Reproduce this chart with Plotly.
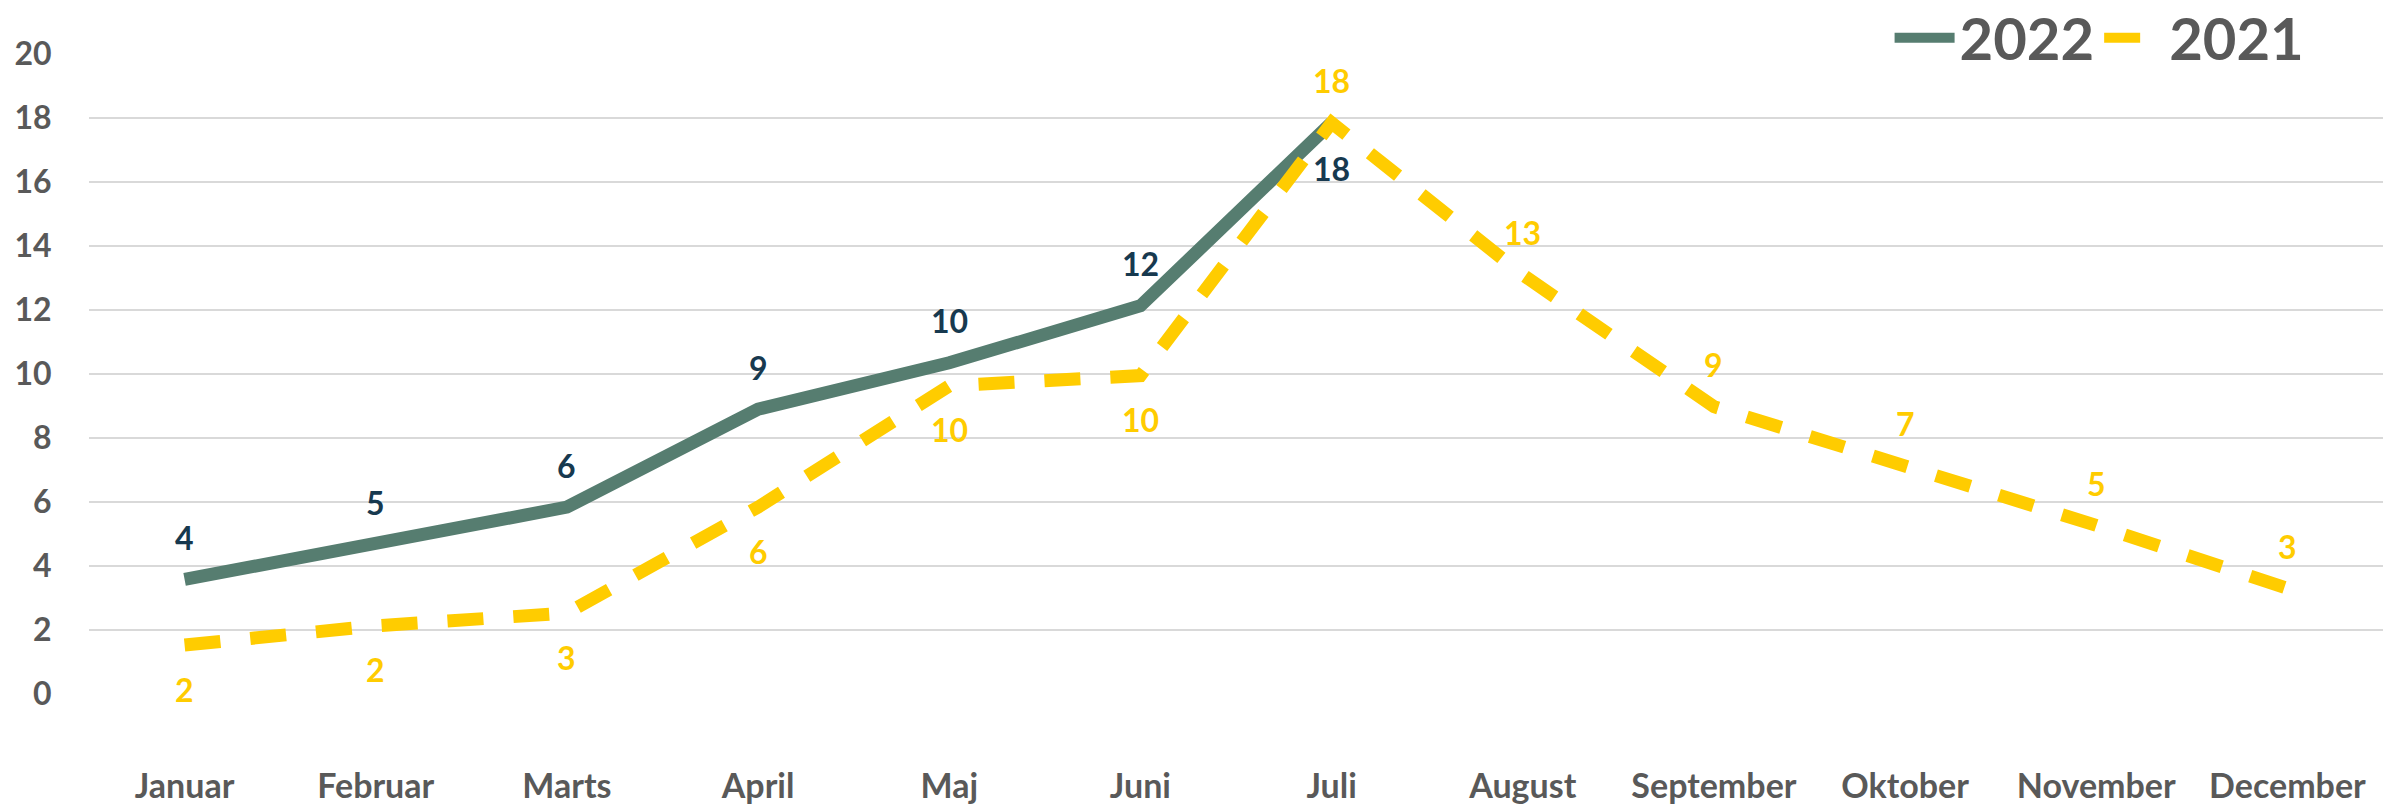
import plotly.graph_objects as go

months = ["Januar", "Februar", "Marts", "April", "Maj", "Juni", "Juli",
          "August", "September", "Oktober", "November", "December"]
values_2022 = [3.58, 4.66, 5.84, 8.9, 10.35, 12.13, 17.85, None, None, None, None, None]
values_2021 = [1.53, 2.13, 2.53, 5.84, 9.63, 9.95, 17.85, 13.1, 8.98, 7.13, 5.27, 3.3]
# label placement: +1 above the point, -1 below
pos_2022 = [1, 1, 1, 1, 1, 1, -1]
pos_2021 = [-1, -1, -1, -1, -1, -1, 1, 1, 1, 1, 1, 1]

GREEN = "#567D70"
GOLD = "#FFCC00"
NAVY = "#17394F"
GREY = "#595959"
FONT = "Lato"

fig = go.Figure()
fig.add_trace(go.Scatter(x=months, y=values_2022, name="2022", mode="lines",
                         line=dict(color=GREEN, width=13), connectgaps=False))
fig.add_trace(go.Scatter(x=months, y=values_2021, name="2021", mode="lines",
                         line=dict(color=GOLD, width=13, dash="36px,30px")))

for m, v, p in zip(months, values_2022, pos_2022):
    if v is None:
        continue
    fig.add_annotation(x=m, y=v, text=f"{v:.0f}", showarrow=False,
                       yshift=(42 if p > 0 else -46),
                       font=dict(family=FONT, size=32, color=NAVY, weight="bold"))
for m, v, p in zip(months, values_2021, pos_2021):
    fig.add_annotation(x=m, y=v, text=f"{v:.0f}", showarrow=False,
                       yshift=(42 if p > 0 else -44),
                       font=dict(family=FONT, size=32, color=GOLD, weight="bold"))

fig.update_layout(
    width=2385, height=806,
    margin=dict(l=89, r=2, t=54, b=112, autoexpand=False),
    plot_bgcolor="white", paper_bgcolor="white",
    showlegend=True,
    legend=dict(orientation="h", x=0.968, xanchor="right", y=1.025, yanchor="middle",
                font=dict(family=FONT, size=58, color=GREY, weight="bold"),
                bgcolor="rgba(0,0,0,0)", itemwidth=60, tracegroupgap=0),
    xaxis=dict(type="category", range=[-0.5, 11.5], showgrid=False, showline=False,
               ticks="outside", ticklen=62, tickcolor="rgba(0,0,0,0)",
               tickfont=dict(family=FONT, size=34, color=GREY, weight="bold"), fixedrange=True),
    yaxis=dict(range=[0, 20], dtick=2, tick0=0, showgrid=True, gridcolor="#D9D9D9", gridwidth=2,
               zeroline=False, showline=False, ticks="outside", ticklen=30,
               tickcolor="rgba(0,0,0,0)",
               tickfont=dict(family=FONT, size=32, color=GREY, weight="bold"), fixedrange=True),
)

fig.write_html("out.html", config={"displayModeBar": False},
               post_script="document.body.style.margin='0';document.body.style.overflow='hidden';")
